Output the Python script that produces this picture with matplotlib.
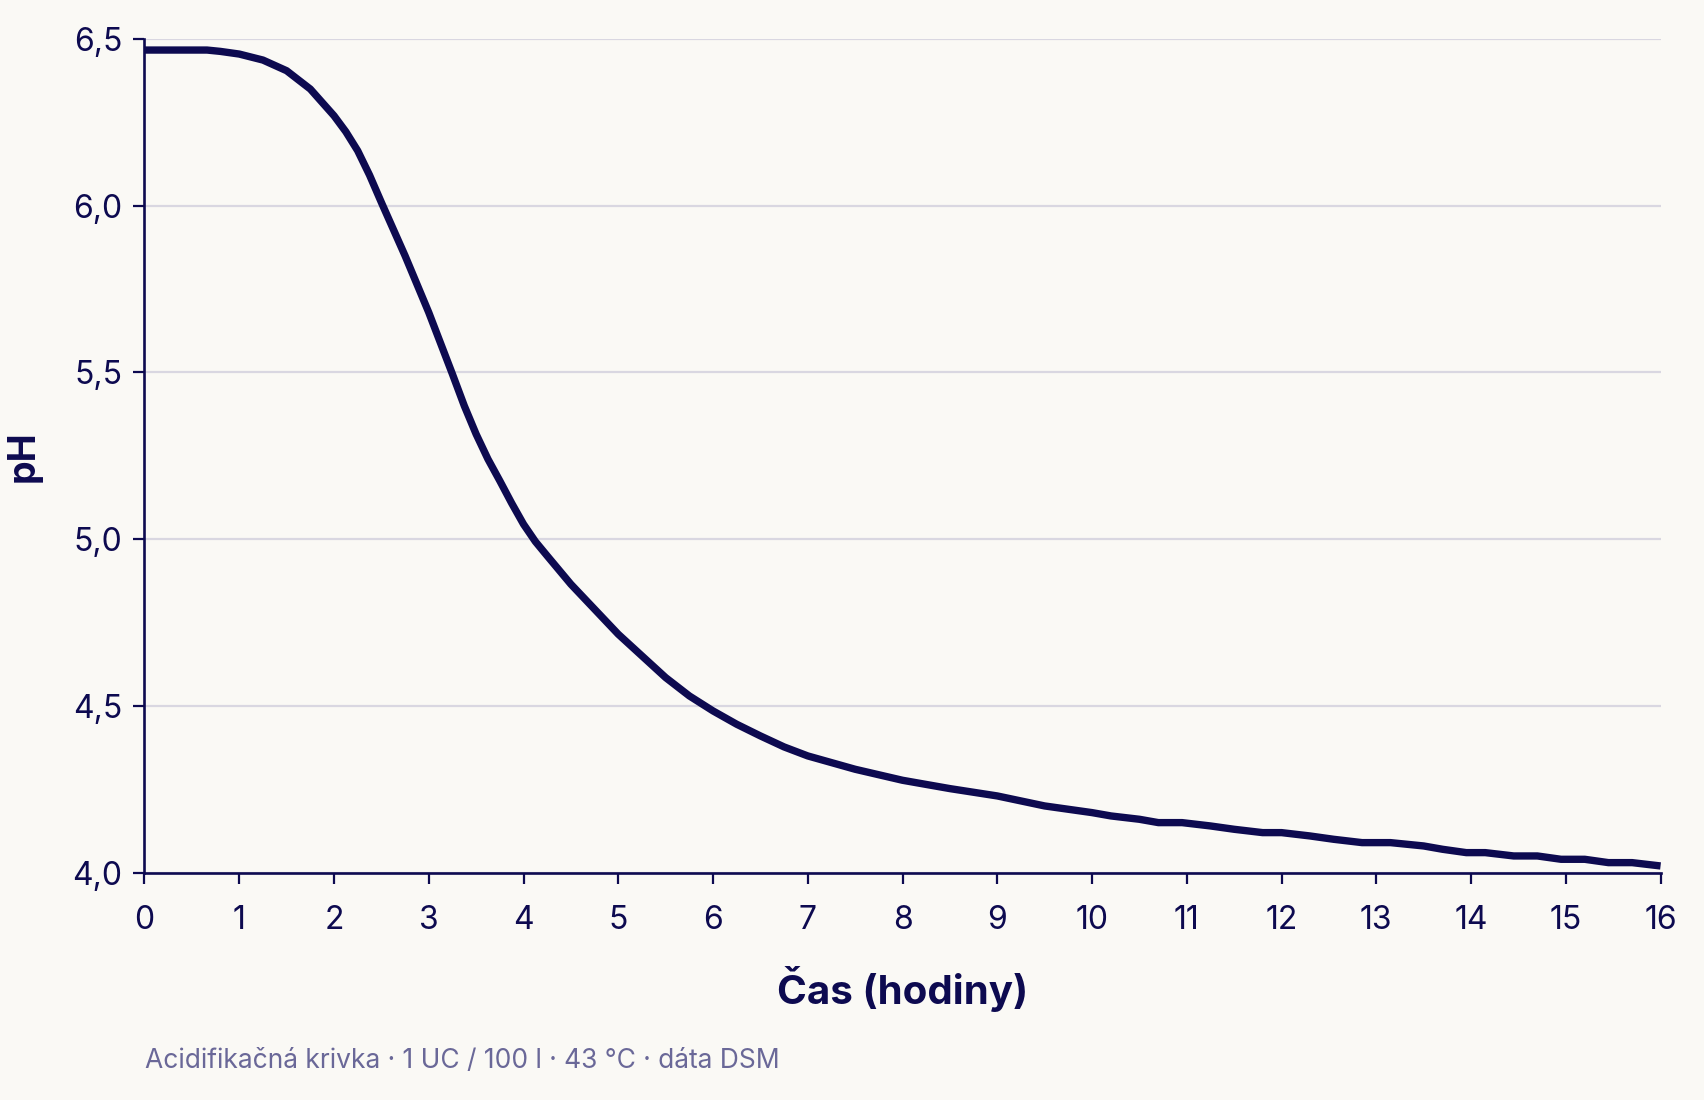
import matplotlib.pyplot as plt

# acidification curve, pH vs time (hours)
hours = [0, 0.25, 0.5, 0.66, 0.8, 1.0, 1.25, 1.5, 1.75, 2.0, 2.125, 2.25,
         2.375, 2.5, 2.75, 3.0, 3.25, 3.375, 3.5, 3.625, 3.75, 3.875, 4.0,
         4.125, 4.25, 4.5, 4.75, 5.0, 5.25, 5.5, 5.75, 6.0, 6.25, 6.5, 6.75,
         7.0, 7.5, 8.0, 8.5, 9.0, 9.5, 10.0, 10.2, 10.5, 10.7, 10.95, 11.25,
         11.5, 11.8, 12.0, 12.3, 12.55, 12.85, 13.15, 13.5, 13.7, 13.95,
         14.15, 14.45, 14.7, 14.95, 15.2, 15.45, 15.7, 16.0]
ph = [6.467, 6.467, 6.467, 6.467, 6.463, 6.455, 6.437, 6.405, 6.35, 6.27,
      6.222, 6.165, 6.092, 6.01, 5.85, 5.68, 5.495, 5.4, 5.315, 5.24, 5.175,
      5.108, 5.045, 4.993, 4.95, 4.865, 4.79, 4.715, 4.65, 4.585, 4.53,
      4.485, 4.445, 4.41, 4.377, 4.35, 4.31, 4.277, 4.252, 4.23, 4.2, 4.18,
      4.17, 4.16, 4.15, 4.15, 4.14, 4.13, 4.12, 4.12, 4.11, 4.10, 4.09,
      4.09, 4.08, 4.07, 4.06, 4.06, 4.05, 4.05, 4.04, 4.04, 4.03, 4.03, 4.02]

x_ticks = list(range(0, 17))
y_ticks = [4.0, 4.5, 5.0, 5.5, 6.0, 6.5]
y_tick_labels = ["4,0", "4,5", "5,0", "5,5", "6,0", "6,5"]

caption = "Acidifikačná krivka · 1 UC / 100 l · 43 °C · dáta DSM"

INK = "#0d0a50"
BG = "#faf9f5"
GRID = "#d9d7e1"
MUTED = "#6a6898"

plt.rcParams["font.family"] = ["Inter", "DejaVu Sans"]

fig = plt.figure(figsize=(17.04, 11.0), dpi=100, facecolor=BG)
ax = fig.add_axes([0.0848, 0.2067, 0.8897, 0.7578])
ax.set_facecolor(BG)

ax.plot(hours, ph, color=INK, lw=5.3, solid_capstyle="butt",
        solid_joinstyle="round", zorder=3)

ax.set_xlim(0, 16)
ax.set_ylim(4.0, 6.5)
ax.set_xticks(x_ticks)
ax.set_xticklabels([str(t) for t in x_ticks])
ax.set_yticks(y_ticks)
ax.set_yticklabels(y_tick_labels)

ax.grid(axis="y", color=GRID, lw=1.6, zorder=0)
ax.set_axisbelow(True)
for s in ["top", "right"]:
    ax.spines[s].set_visible(False)
for s in ["left", "bottom"]:
    ax.spines[s].set_color(INK)
    ax.spines[s].set_linewidth(1.9)
    ax.spines[s].set_zorder(4)

ax.tick_params(axis="both", colors=INK, length=8, width=1.6, labelsize=23)
ax.tick_params(axis="x", pad=15)
ax.tick_params(axis="y", pad=8)

ax.set_xlabel("Čas (hodiny)", fontsize=29, fontweight="bold", color=INK)
ax.xaxis.set_label_coords(0.5, -0.1396)
ax.xaxis.label.set_verticalalignment("center")
ax.set_ylabel("pH", fontsize=27, fontweight="bold", color=INK)
ax.yaxis.set_label_coords(-0.0795, 0.5)
ax.yaxis.label.set_verticalalignment("center")

fig.text(145 / 1704, 1 - 1061 / 1100, caption, fontsize=19, color=MUTED,
         ha="left", va="center")

fig.savefig("out.png", dpi=100, facecolor=BG)
